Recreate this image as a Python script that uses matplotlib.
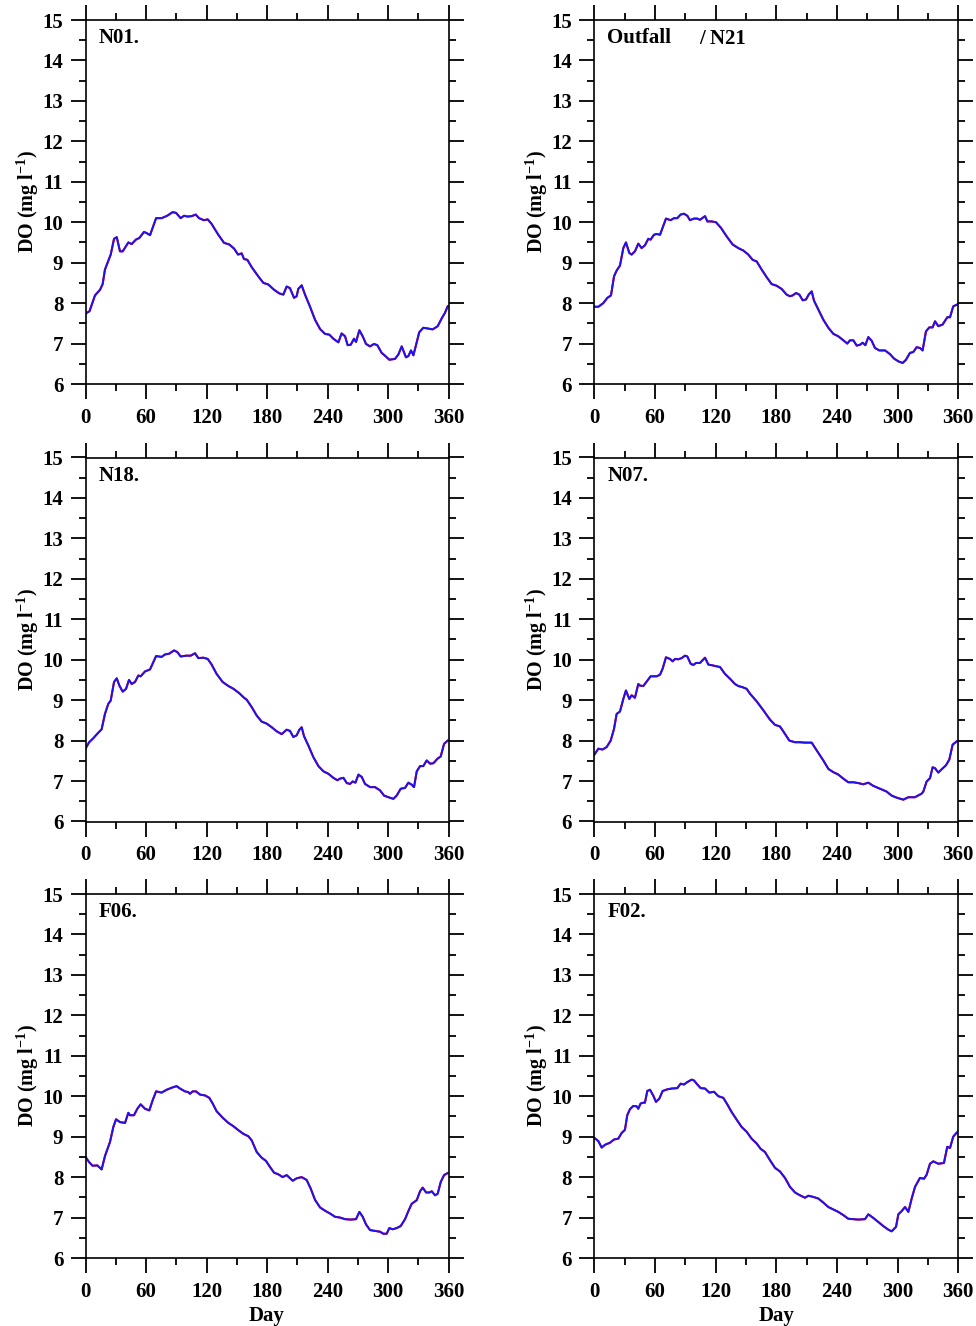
import matplotlib
matplotlib.use("Agg")
import matplotlib.pyplot as plt
from matplotlib.ticker import MultipleLocator

plt.rcParams["font.family"] = ["Liberation Serif", "DejaVu Serif"]
plt.rcParams["font.weight"] = "bold"
plt.rcParams["mathtext.fontset"] = "custom"
plt.rcParams["mathtext.rm"] = "Liberation Serif:bold"
plt.rcParams["mathtext.it"] = "Liberation Serif:bold"
plt.rcParams["mathtext.bf"] = "Liberation Serif:bold"

# ---- daily dissolved oxygen (mg/l) at each station ----
n01_day = [0, 4, 9.4, 14.4, 17, 19.3, 25, 28.3, 31, 34.2, 36.9, 42.5, 45.8, 50, 53.4, 58, 60.7, 64,
           70, 75.5, 81, 86.5, 89.8, 94.4, 97.7, 101, 105.3, 109.3, 112.6, 117.5, 121.2, 125, 131.7,
           137.4, 142.6, 147.3, 151.3, 154.9, 157.2, 160.5, 164.8, 171.4, 176.4, 181.3, 187, 192.2,
           196.2, 199.5, 202.8, 206.8, 209.4, 211, 214.4, 217.7, 222.7, 227.6, 232.6, 237.5, 241.8,
           245.8, 250.8, 254, 257.4, 260, 263, 266.3, 268.3, 271.6, 274.9, 278.2, 282.2, 286.1,
           289.4, 293.7, 297, 301.3, 306.9, 310.3, 313.6, 317.8, 320.2, 322.8, 325.2, 331, 335, 340,
           344.3, 349.3, 353.2, 356.5, 359.2]
n01_do = [7.74, 7.80, 8.19, 8.33, 8.47, 8.83, 9.20, 9.59, 9.63, 9.28, 9.28, 9.50, 9.46, 9.57, 9.61,
          9.76, 9.73, 9.68, 10.10, 10.10, 10.16, 10.25, 10.23, 10.10, 10.16, 10.14, 10.15, 10.19,
          10.10, 10.05, 10.07, 9.96, 9.69, 9.49, 9.45, 9.35, 9.20, 9.23, 9.09, 9.07, 8.89, 8.66,
          8.50, 8.46, 8.33, 8.24, 8.21, 8.41, 8.37, 8.13, 8.17, 8.35, 8.44, 8.21, 7.91, 7.59, 7.36,
          7.24, 7.22, 7.12, 7.03, 7.25, 7.18, 6.96, 6.97, 7.12, 7.04, 7.33, 7.18, 6.99, 6.93, 6.99,
          6.96, 6.77, 6.70, 6.60, 6.62, 6.73, 6.93, 6.66, 6.69, 6.83, 6.71, 7.28, 7.39, 7.37, 7.35,
          7.43, 7.62, 7.76, 7.92]

n21_day = [0, 4, 8.9, 12.9, 16.5, 19.5, 22, 25.4, 28.7, 31.3, 34.6, 36.9, 40.2, 43.5, 46.8, 50.1,
           53.4, 55.7, 59, 61.7, 65, 70.9, 75.5, 78.8, 82.1, 85.4, 88.7, 92, 94.6, 98.6, 101.9,
           104.5, 109.5, 111.8, 116, 120.3, 125.3, 130.9, 136.8, 142.4, 147.4, 152.3, 156.6, 160.6,
           165.5, 170.5, 175.4, 180.3, 185.3, 190.2, 193.5, 196.2, 199.5, 202.8, 206.1, 209.4, 212,
           215, 217.3, 221.6, 226.5, 231.5, 236.4, 241.3, 246.3, 250.2, 252.9, 256.2, 259.5, 262.8,
           265.4, 268.1, 271, 274.3, 277.6, 281.9, 287.5, 292.4, 296.4, 300.7, 305, 308.3, 312.2,
           315.5, 318.8, 322.1, 324.7, 328, 331.3, 334.6, 337, 340.2, 344.5, 349.1, 351.8, 355,
           358.4, 360]
n21_do = [7.91, 7.91, 8.00, 8.13, 8.19, 8.66, 8.80, 8.93, 9.36, 9.50, 9.24, 9.20, 9.28, 9.47, 9.36,
          9.43, 9.59, 9.57, 9.69, 9.71, 9.69, 10.09, 10.05, 10.10, 10.10, 10.19, 10.21, 10.16,
          10.05, 10.09, 10.09, 10.06, 10.15, 10.02, 10.02, 10.00, 9.86, 9.65, 9.45, 9.36, 9.30,
          9.20, 9.07, 9.03, 8.83, 8.64, 8.47, 8.43, 8.35, 8.21, 8.17, 8.19, 8.25, 8.21, 8.07, 8.09,
          8.21, 8.29, 8.06, 7.84, 7.59, 7.39, 7.24, 7.18, 7.08, 7.00, 7.08, 7.08, 6.95, 6.97, 7.02,
          6.96, 7.16, 7.07, 6.89, 6.83, 6.83, 6.74, 6.63, 6.56, 6.52, 6.60, 6.77, 6.79, 6.91, 6.89,
          6.83, 7.30, 7.40, 7.40, 7.55, 7.43, 7.47, 7.65, 7.65, 7.92, 7.96, 7.98]

n18_day = [0, 3.6, 7.8, 11.7, 16, 19.3, 22.6, 25, 28.3, 31, 33.6, 36.9, 40.2, 43.1, 45.8, 49.1,
           52.4, 54.7, 59, 64, 70, 75.5, 78.8, 83.1, 87.8, 91, 94.4, 99.7, 104.3, 108.6, 111.9,
           116.9, 121.2, 125.1, 130, 136, 141.7, 146.8, 152.6, 157.2, 159.9, 164.8, 169.8, 174.7,
           179.7, 184.7, 189.6, 194.6, 199.5, 202.8, 206.1, 209.4, 212.1, 214.4, 216.7, 221, 226,
           231, 236, 240.9, 245.8, 249.8, 252.4, 255.8, 259.1, 262.4, 265, 267.7, 270.7, 274, 277.2,
           282.2, 287.1, 292.1, 296.1, 300.4, 305.3, 308.6, 312.6, 316.9, 320.2, 323.5, 325.8,
           328.5, 331.8, 335, 338.4, 341.7, 345, 349, 352.3, 355.6, 359.2]
n18_do = [7.80, 7.96, 8.06, 8.17, 8.28, 8.66, 8.91, 8.99, 9.45, 9.54, 9.36, 9.21, 9.28, 9.50, 9.40,
          9.45, 9.61, 9.59, 9.71, 9.76, 10.09, 10.07, 10.13, 10.15, 10.23, 10.19, 10.08, 10.10,
          10.10, 10.16, 10.04, 10.05, 10.02, 9.88, 9.65, 9.45, 9.35, 9.28, 9.17, 9.06, 9.01, 8.83,
          8.62, 8.47, 8.42, 8.33, 8.23, 8.16, 8.27, 8.24, 8.09, 8.13, 8.27, 8.33, 8.11, 7.88, 7.59,
          7.37, 7.24, 7.18, 7.08, 7.02, 7.06, 7.08, 6.95, 6.93, 6.99, 6.96, 7.16, 7.10, 6.93, 6.85,
          6.85, 6.77, 6.64, 6.60, 6.56, 6.64, 6.81, 6.83, 6.96, 6.91, 6.85, 7.24, 7.37, 7.37, 7.51,
          7.43, 7.44, 7.55, 7.61, 7.92, 8.00]

n07_day = [0, 4, 8.2, 12.2, 16.2, 19.5, 22.1, 25.4, 28.7, 31.3, 34.6, 36.9, 40.2, 43.5, 45.2, 48.5,
           51.8, 55.7, 61.7, 65, 67.6, 70.9, 74.8, 77.5, 79.8, 83.1, 86.4, 89.7, 92, 95.3, 97.9,
           100.6, 104.5, 109.5, 112.8, 117, 120.3, 124.3, 129.2, 134.2, 139.1, 142.4, 146.7, 150.7,
           154, 160.6, 167.2, 173.7, 178.7, 183.6, 186.9, 192.9, 198.5, 203.4, 208.4, 215, 219.9,
           226.5, 231.5, 236.4, 241.3, 246.3, 251.2, 256.2, 261.1, 266, 271, 276, 282.6, 289.1,
           294.1, 299, 305.6, 310.6, 317.1, 323.8, 325.4, 328.7, 332, 334.6, 336.9, 340.2, 343.5,
           347.8, 351.1, 354.4, 358.4]
n07_do = [7.65, 7.80, 7.78, 7.84, 8.00, 8.29, 8.66, 8.72, 9.03, 9.24, 9.03, 9.12, 9.06, 9.40, 9.36,
          9.35, 9.46, 9.59, 9.59, 9.63, 9.78, 10.06, 10.02, 9.96, 10.02, 10.01, 10.04, 10.10, 10.08,
          9.90, 9.87, 9.92, 9.92, 10.05, 9.88, 9.86, 9.84, 9.82, 9.65, 9.53, 9.40, 9.35, 9.32, 9.28,
          9.16, 8.97, 8.75, 8.52, 8.39, 8.35, 8.23, 8.00, 7.96, 7.96, 7.95, 7.95, 7.76, 7.51, 7.30,
          7.22, 7.16, 7.06, 6.97, 6.97, 6.95, 6.92, 6.96, 6.88, 6.81, 6.74, 6.64, 6.59, 6.54, 6.60,
          6.60, 6.69, 6.74, 6.99, 7.07, 7.34, 7.32, 7.21, 7.29, 7.39, 7.53, 7.90, 7.98]

f06_day = [0, 3.6, 7, 11.7, 16, 19.3, 24.3, 27.6, 30.3, 34.2, 39.2, 42.5, 44.1, 48.1, 51.4, 54.7,
           59, 63.3, 66.6, 70, 75.5, 80.5, 85.5, 90.4, 93.7, 98.7, 102, 103.6, 106.3, 109.6, 113.6,
           118.5, 122.8, 126.1, 130, 136, 141.7, 146.6, 151.6, 156.5, 161.5, 164.8, 169.8, 174.7,
           179, 183, 187, 191.2, 195.5, 199.5, 205.5, 209.4, 214.4, 219.3, 223.3, 227.6, 232.6,
           237.5, 242.5, 247.4, 252.4, 257.4, 263, 268.3, 271.6, 274.9, 278.2, 282.2, 287.1, 292.1,
           295.4, 298.7, 301.3, 304.6, 308.6, 312.6, 316.9, 320.2, 323.5, 328.5, 331.8, 334.4,
           337.8, 341.1, 343.4, 346.7, 349.3, 352.3, 355.6, 359.2]
f06_do = [8.50, 8.37, 8.28, 8.29, 8.19, 8.52, 8.87, 9.24, 9.43, 9.36, 9.34, 9.59, 9.53, 9.53, 9.69,
          9.80, 9.69, 9.65, 9.90, 10.12, 10.09, 10.16, 10.21, 10.25, 10.19, 10.12, 10.10, 10.06,
          10.12, 10.12, 10.04, 10.02, 9.96, 9.82, 9.63, 9.47, 9.34, 9.26, 9.16, 9.07, 9.01, 8.91,
          8.62, 8.48, 8.40, 8.25, 8.11, 8.07, 8.00, 8.05, 7.91, 7.97, 8.00, 7.93, 7.72, 7.44, 7.25,
          7.17, 7.10, 7.02, 7.00, 6.96, 6.95, 6.96, 7.14, 7.02, 6.83, 6.69, 6.67, 6.65, 6.60, 6.60,
          6.74, 6.71, 6.74, 6.79, 6.96, 7.16, 7.34, 7.43, 7.65, 7.74, 7.62, 7.62, 7.65, 7.55, 7.59,
          7.88, 8.05, 8.10]

f02_day = [0, 4, 7.3, 10.6, 15.5, 19.5, 23.7, 27, 30.3, 32.6, 35.3, 38.6, 41.9, 43.5, 45.8, 48.5,
           50.1, 52.4, 55.1, 58.4, 61, 64.3, 67.6, 72.2, 76.5, 82.1, 85.4, 88.7, 92, 96.3, 98.6,
           101.9, 105.2, 109.5, 113.7, 118.4, 122.7, 127.6, 131.5, 135.8, 140.8, 145.7, 150.7,
           155.6, 160.6, 164.5, 168.8, 173.7, 178.7, 183.6, 188.6, 193.5, 198.5, 203.4, 208.4,
           211.7, 216.6, 221.6, 226.5, 231.5, 236.4, 241.3, 246.3, 251.2, 256.2, 261.1, 267.7, 271,
           276, 280.9, 285.8, 290.8, 294.1, 298.4, 300.7, 304, 307.3, 310.6, 313.9, 317.2, 322.1,
           326.1, 328.7, 332, 335.3, 340.2, 345.8, 349.1, 351.8, 355, 358.4, 359.4]
f02_do = [8.97, 8.89, 8.73, 8.80, 8.85, 8.93, 8.95, 9.09, 9.17, 9.53, 9.68, 9.76, 9.75, 9.69, 9.82,
          9.84, 9.84, 10.13, 10.16, 10.01, 9.86, 9.94, 10.13, 10.17, 10.19, 10.20, 10.31, 10.29,
          10.35, 10.41, 10.39, 10.29, 10.20, 10.19, 10.09, 10.11, 10.00, 9.96, 9.80, 9.61, 9.42,
          9.24, 9.12, 8.95, 8.83, 8.70, 8.62, 8.42, 8.23, 8.14, 7.98, 7.76, 7.62, 7.55, 7.49, 7.54,
          7.51, 7.47, 7.37, 7.26, 7.20, 7.14, 7.06, 6.97, 6.96, 6.95, 6.96, 7.08, 6.99, 6.89, 6.79,
          6.70, 6.66, 6.77, 7.08, 7.16, 7.26, 7.14, 7.47, 7.76, 7.98, 7.96, 8.06, 8.33, 8.39, 8.33,
          8.35, 8.75, 8.72, 9.00, 9.10, 9.12]

stations = [
    ("N01.", None, n01_day, n01_do),
    ("Outfall", "/ N21", n21_day, n21_do),
    ("N18.", None, n18_day, n18_do),
    ("N07.", None, n07_day, n07_do),
    ("F06.", None, f06_day, f06_do),
    ("F02.", None, f02_day, f02_do),
]

day_ticks = [0, 60, 120, 180, 240, 300, 360]
do_ticks = list(range(6, 16))

fig = plt.figure(figsize=(9.76, 13.26), dpi=100)
W, H = 976.0, 1326.0
col_left = [85.5, 594.3]
col_width = [363.0, 364.0]
row_top = [20.0, 457.5, 894.0]
row_height = 364.0

for i, (name, suffix, days, do) in enumerate(stations):
    r, c = divmod(i, 2)
    ax = fig.add_axes([col_left[c] / W, 1 - (row_top[r] + row_height) / H,
                       col_width[c] / W, row_height / H])
    # two nearly coincident series: red beneath, blue on top
    ax.plot(days, do, color="red", lw=1.5, solid_joinstyle="round")
    ax.plot(days, do, color="#1a14f5", lw=1.4, solid_joinstyle="round")

    ax.set_xlim(0, 360)
    ax.set_ylim(6, 15)
    ax.set_xticks(day_ticks)
    ax.set_yticks(do_ticks)
    ax.xaxis.set_minor_locator(MultipleLocator(30))
    ax.yaxis.set_minor_locator(MultipleLocator(0.5))
    ax.tick_params(which="both", direction="out", top=True, right=True,
                   labeltop=False, labelright=False, width=1.3, color="black")
    ax.tick_params(which="major", length=11, labelsize=15)
    ax.tick_params(axis="y", which="major", pad=5)
    ax.tick_params(axis="x", which="major", pad=6)
    ax.tick_params(which="minor", length=5)
    for lab in ax.get_xticklabels() + ax.get_yticklabels():
        lab.set_fontweight("bold")
    for sp in ax.spines.values():
        sp.set_linewidth(1.2)

    ax.set_ylabel(r"DO (mg l$^{-1}$)", fontsize=14.5, fontweight="bold", labelpad=1)
    if r == 2:
        ax.set_xlabel("Day", fontsize=15, fontweight="bold", labelpad=3)

    ax.text(0.036, 0.977, name, transform=ax.transAxes, ha="left", va="top",
            fontsize=15, fontweight="bold")
    if suffix:
        ax.text(0.288, 0.974, suffix, transform=ax.transAxes, ha="left", va="top",
                fontsize=15, fontweight="bold")

fig.savefig("out.png", dpi=100)
